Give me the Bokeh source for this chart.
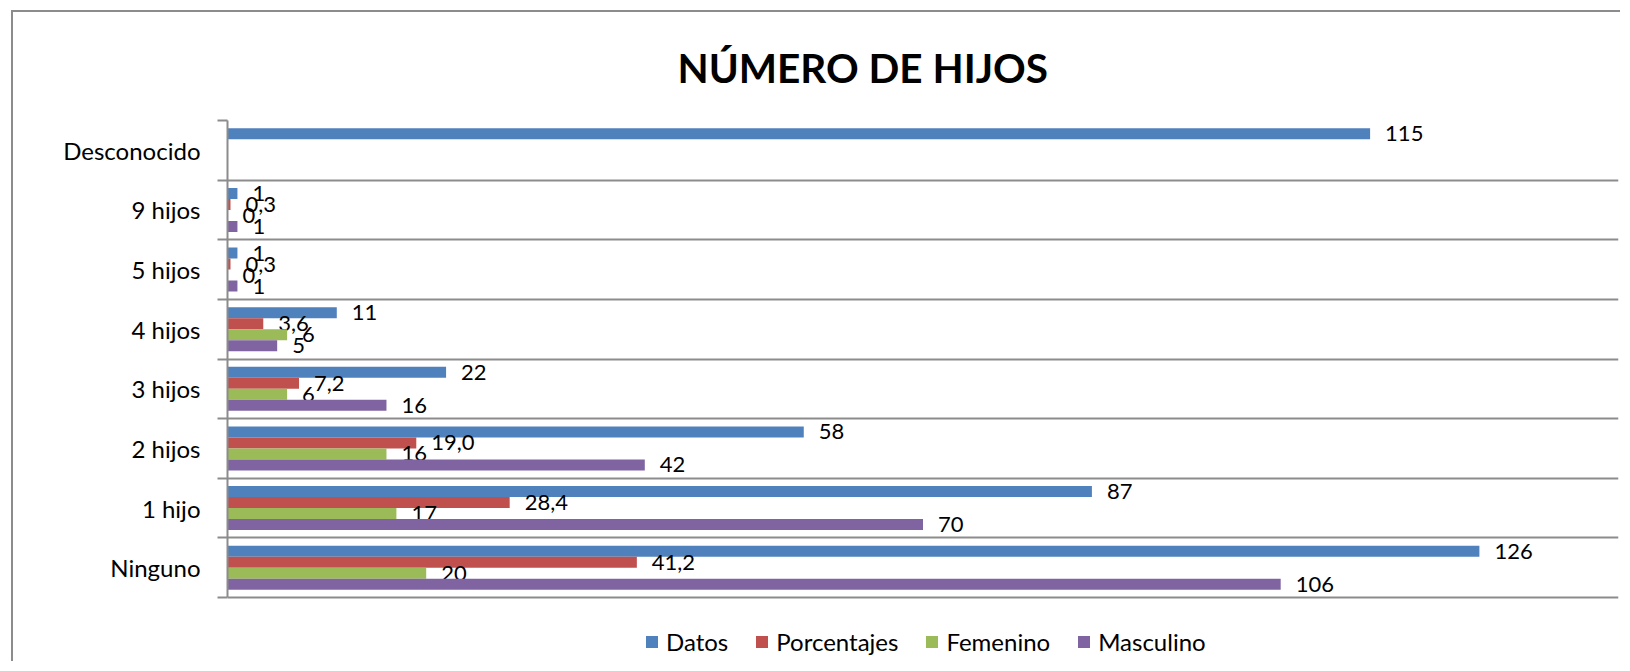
from bokeh.plotting import figure
from bokeh.models import (ColumnDataSource, Range1d, FixedTicker, Legend, LegendItem, Title)
from bokeh.core.properties import value
from bokeh.embed import file_html
from bokeh.resources import INLINE

# ---- data (bottom to top) ----
categories = ["Ninguno", "1 hijo", "2 hijos", "3 hijos", "4 hijos", "5 hijos", "9 hijos", "Desconocido"]
datos = [126, 87, 58, 22, 11, 1, 1, 115]
porcentajes = [41.2, 28.4, 19.0, 7.2, 3.6, 0.3, 0.3, None]
femenino = [20, 17, 16, 6, 6, 0, 0, None]
masculino = [106, 70, 42, 16, 5, 1, 1, None]

series_names = ["Datos", "Porcentajes", "Femenino", "Masculino"]
series_values = [datos, porcentajes, femenino, masculino]
series_colors = ["#4F81BD", "#C0504D", "#9BBB59", "#8064A2"]
series_offsets = [0.2775, 0.0925, -0.0925, -0.2775]
bar_h = 0.185

FONT = "Lato"
GRAY = "#8c8c8c"

n = len(categories)
cat_px = 477 / n                 # pixel height of one category band
legend_space = 66 / cat_px       # room below the bands for the legend (in band units)

p = figure(width=1609, height=651, output_backend="svg", toolbar_location=None,
           x_range=Range1d(0, 140), y_range=Range1d(-legend_space, n),
           min_border_left=214, min_border_right=4, min_border_top=108, min_border_bottom=0,
           background_fill_color="white", border_fill_color="white")
p.styles = {"position": "absolute", "left": "13px", "top": "12px",
            "box-shadow": f"-2px -2px 0 0 {GRAY}"}
p.outline_line_color = None

title = Title(text="NÚMERO DE HIJOS", align="left", offset=450, vertical_align="top",
              standoff=54, text_font=FONT, text_font_size="40.5px", text_font_style="bold",
              text_color="black")
p.add_layout(title, "above")

centers = [i + 0.5 for i in range(n)]

legend_items = []
for name, vals, col, off in zip(series_names, series_values, series_colors, series_offsets):
    ys, xs, labels = [], [], []
    for c, v in zip(centers, vals):
        if v is None:
            continue
        ys.append(c + off)
        xs.append(v)
        if name == "Porcentajes":
            labels.append(f"{v:.1f}".replace(".", ","))
        else:
            labels.append(str(v))
    src = ColumnDataSource(dict(y=ys, right=xs, label=labels))
    r = p.hbar(y="y", left=0, right="right", height=bar_h, source=src,
               fill_color=col, line_color=None)
    p.text(x="right", y="y", text="label", source=src, x_offset=15,
           text_baseline="middle", text_align="left", text_font=value(FONT),
           text_font_size="22px", text_color="black")
    legend_items.append(LegendItem(label=name, renderers=[r]))

# axes
p.xaxis.visible = False
p.xgrid.visible = False
yax = p.yaxis[0]
yax.bounds = (0, n)
yax.ticker = FixedTicker(ticks=centers, minor_ticks=list(range(n + 1)))
yax.major_label_overrides = {c: cat for c, cat in zip(centers, categories)}
yax.major_tick_out = 0
yax.major_tick_in = 0
yax.minor_tick_out = 10
yax.minor_tick_in = 0
yax.minor_tick_line_color = GRAY
yax.minor_tick_line_width = 2
yax.axis_line_color = GRAY
yax.axis_line_width = 2
yax.major_label_standoff = 17
yax.major_label_text_font = FONT
yax.major_label_text_font_size = "24px"
yax.major_label_text_color = "black"

p.ygrid.ticker = FixedTicker(ticks=list(range(n + 1)))
p.ygrid.grid_line_color = GRAY
p.ygrid.grid_line_width = 2

legend = Legend(items=legend_items, orientation="horizontal", location=(417, 7),
                glyph_width=15, glyph_height=15, label_standoff=7, spacing=26,
                padding=0, margin=0, border_line_color=None, background_fill_alpha=0,
                label_text_font=FONT, label_text_font_size="24px", label_text_color="black")
p.add_layout(legend, "center")

open("out.html", "w").write(file_html(p, INLINE))
